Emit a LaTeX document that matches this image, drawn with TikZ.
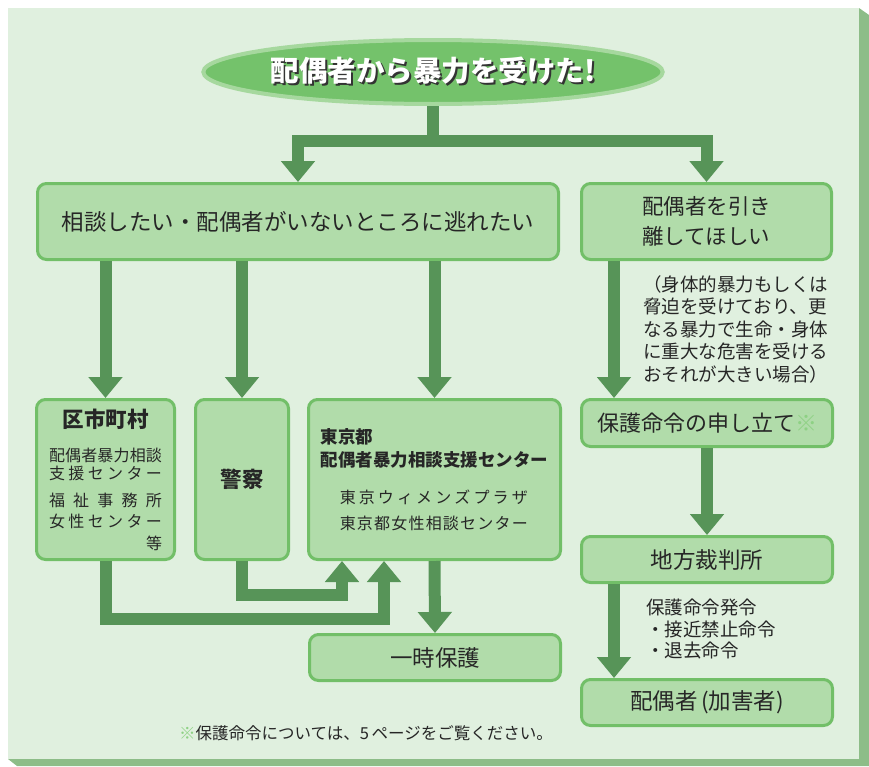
\documentclass[tikz,border=0pt]{standalone}
\usepackage{fontspec}
\setmainfont{Noto Sans CJK JP}
\usetikzlibrary{arrows.meta,shapes.geometric}
\definecolor{panelbg}{HTML}{E0F0DF}
\definecolor{panelshadow}{HTML}{8DBD88}
\definecolor{boxfill}{HTML}{B1DCAA}
\definecolor{boxline}{HTML}{72BF68}
\definecolor{flowgreen}{HTML}{579458}
\definecolor{ovalfill}{HTML}{74C26B}
\definecolor{ovalring}{HTML}{A6D89E}
\definecolor{notemark}{HTML}{8ED184}
\newcommand{\shadowtext}[1]{\makebox[0pt][l]{\hspace*{2pt}\raisebox{-2pt}{\textcolor{black!80}{#1}}}\textcolor{white}{#1}}
\tikzset{%
    >={Triangle[width=33pt,length=21pt]},
    box/.style={draw=boxline, fill=boxfill, line width=3pt, rounded corners=9pt,
      inner sep=0pt, anchor=north west, text=black!85},
    flow/.style={draw=flowgreen, line width=12pt, line join=miter},
    sidenote/.style={align=left, inner sep=0pt, anchor=north west, text=black!85}
}

\begin{document}
\begin{tikzpicture}[x=1pt,y=-1pt]
      \useasboundingbox (0,0) rectangle (869,766);
      \fill[panelshadow] (859,8) -- (869,15) -- (869,766) -- (17,766) -- (8,759) -- cycle;
      \fill[panelbg] (8,8) rectangle (859,759);

      % title
      \node[ellipse, fill=ovalfill, draw=ovalring, line width=4pt,
        minimum width=456pt, minimum height=64pt, inner sep=0pt,
        font=\fontsize{28.5}{30}\selectfont\bfseries] (title) at (433,72)
        {\shadowtext{配偶者から暴力を受けた!}};
      \coordinate (split) at (433,141);

      % boxes
      \node[box, minimum width=521pt, minimum height=76pt,
        font=\fontsize{22.5}{26}\selectfont] (consult) at (36,182) {相談したい・配偶者がいないところに逃れたい};
      \node[box, minimum width=250pt, minimum height=76pt, align=left,
        font=\fontsize{21.5}{30}\selectfont] (separate) at (580,182) {配偶者を引き\\離してほしい};

      \node[box, minimum width=138pt, minimum height=160pt, align=center,
        font=\fontsize{16}{18}\selectfont] (kushi) at (35,398) {%
        {\fontsize{21.5}{24}\selectfont\bfseries 区市町村}\\[16pt]
        \makebox[113pt][s]{配\hfill 偶\hfill 者\hfill 暴\hfill 力\hfill 相\hfill 談}\\
        \makebox[113pt][s]{支\hfill 援\hfill セ\hfill ン\hfill タ\hfill ー}\\[9pt]
        \makebox[113pt][s]{福\hfill 祉\hfill 事\hfill 務\hfill 所}\\[3pt]
        \makebox[113pt][s]{女\hfill 性\hfill セ\hfill ン\hfill タ\hfill ー}\\[4pt]
        \makebox[113pt][r]{等}};
      \node[box, minimum width=93pt, minimum height=160pt,
        font=\fontsize{21.5}{24}\selectfont\bfseries] (police) at (194,398) {警察};
      \node[box, minimum width=252pt, minimum height=160pt, align=left,
        font=\fontsize{16}{23}\selectfont] (tokyo) at (307,398) {%
        {\fontsize{17.5}{20}\selectfont\bfseries 東京都}\\
        {\fontsize{17.5}{20}\selectfont\bfseries 配偶者暴力相談支援センター}\\[13.5pt]
        \hspace*{19pt}\makebox[188pt][s]{東\hfill 京\hfill ウ\hfill ィ\hfill メ\hfill ン\hfill ズ\hfill プ\hfill ラ\hfill ザ}\\[3pt]
        \hspace*{19pt}\makebox[188pt][s]{東\hfill 京\hfill 都\hfill 女\hfill 性\hfill 相\hfill 談\hfill セ\hfill ン\hfill タ\hfill ー}};
      \node[box, minimum width=251pt, minimum height=46pt,
        font=\fontsize{22.5}{26}\selectfont] (ichiji) at (308,633) {一時保護};

      \node[box, minimum width=251pt, minimum height=47pt,
        font=\fontsize{22}{26}\selectfont] (petition) at (580,398) {保護命令の申し立て\textcolor{notemark}{※}};
      \node[box, minimum width=251pt, minimum height=46pt,
        font=\fontsize{22.5}{26}\selectfont] (court) at (580,535) {地方裁判所};
      \node[box, minimum width=251pt, minimum height=46pt,
        font=\fontsize{22.5}{26}\selectfont] (abuser) at (580,678) {配偶者\,(加害者)};

      % side notes
      \node[sidenote, font=\fontsize{18.5}{22.5}\selectfont] (condition) at (643,275)
        {（身体的暴力もしくは\\脅迫を受けており、更\\なる暴力で生命・身体\\に重大な危害を受ける\\おそれが大きい場合）};
      \node[sidenote, font=\fontsize{18.5}{21.5}\selectfont] (order) at (646,599)
        {保護命令発令\\・接近禁止命令\\・退去命令};
      \node[inner sep=0pt, text=black!85, font=\fontsize{16.5}{18}\selectfont] (footnote) at (366,733)
        {\textcolor{notemark}{※}保護命令については、5\,ページをご覧ください。};

      % arrows
      \draw[flow] (title.south) -- (split);
      \draw[flow,->] (split) -| (consult.north);
      \draw[flow,->] (split) -| (separate.north);
      \foreach \target in {kushi,police,tokyo}
        \draw[flow,->] (consult.south -| \target.north) -- (\target.north);
      \draw[flow,->] (kushi.south) -- ++(0,58) -| ([xshift=77pt]tokyo.south west);
      \draw[flow,->] (police.south) -- ++(0,34) -| ([xshift=35pt]tokyo.south west);
      \draw[flow,->] (tokyo.south) -- (ichiji.north);
      \draw[flow,->] ([xshift=34pt]separate.south west) -- ([xshift=34pt]petition.north west);
      \draw[flow,->] (petition.south) -- (court.north);
      \draw[flow,->] ([xshift=34pt]court.south west) -- ([xshift=34pt]abuser.north west);
\end{tikzpicture}
\end{document}
